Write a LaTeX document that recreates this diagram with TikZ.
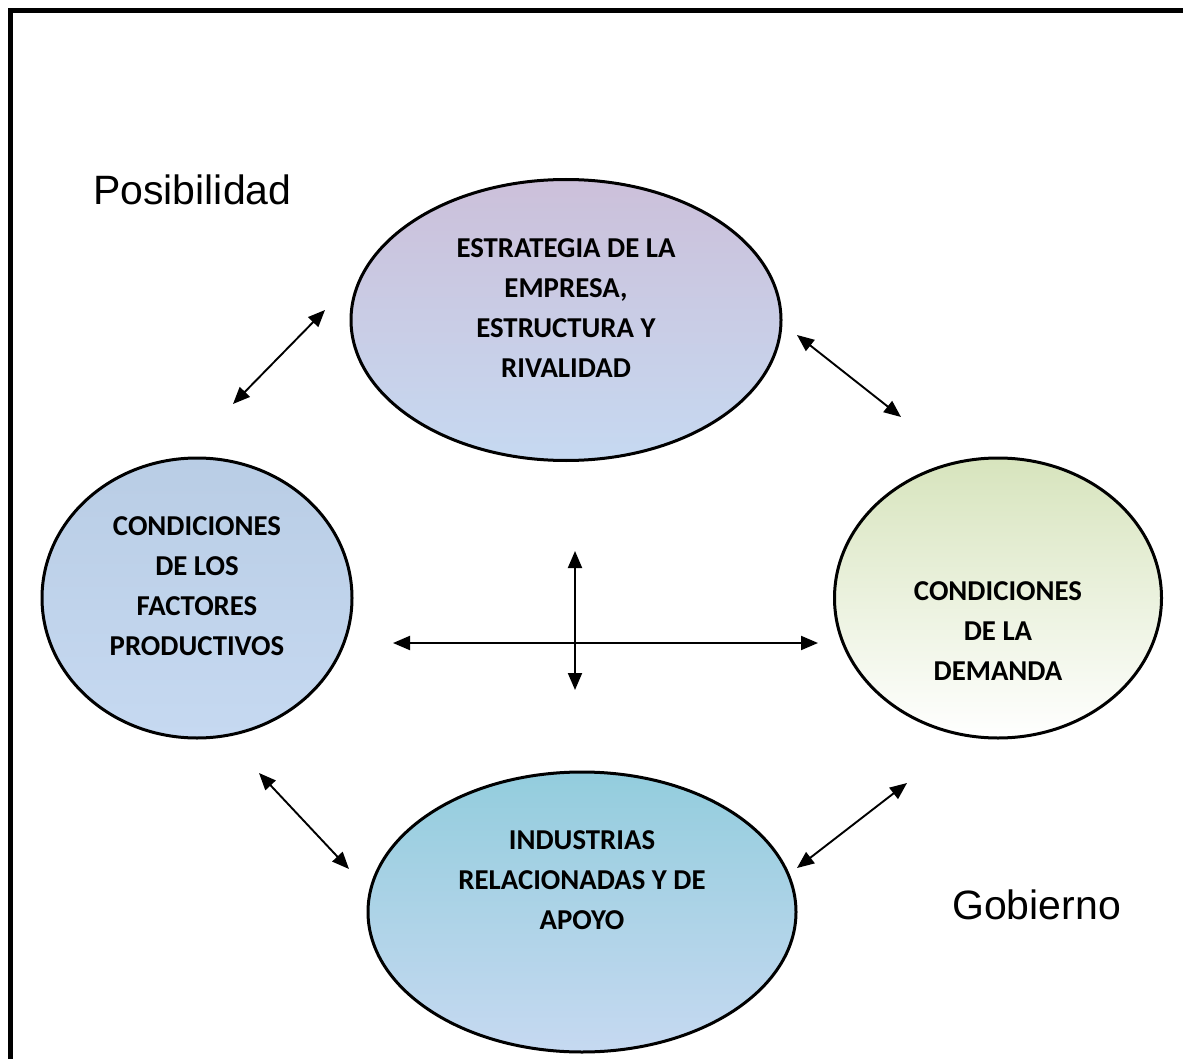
\documentclass[tikz,border=0pt]{standalone}
\usepackage{fontspec}
\setmainfont{Carlito}
\newfontfamily\arialfont{Liberation Sans}
\usetikzlibrary{arrows.meta,shapes.geometric}
\definecolor{purtop}{HTML}{CCC0DA}
\definecolor{bluebot}{HTML}{C6D9F1}
\definecolor{bluetop}{HTML}{B9CDE5}
\definecolor{greentop}{HTML}{D7E4BD}
\definecolor{tealtop}{HTML}{93CDDD}
\tikzset{
  oval/.style={ellipse, draw=black, line width=3pt, inner sep=0pt},
  ovaltext/.style={align=center, font=\fontsize{28.8}{40}\selectfont\bfseries},
  sidelabel/.style={anchor=west, inner sep=0pt, font=\arialfont\fontsize{41}{48}\selectfont},
  biarrow/.style={line width=1.9pt, {Triangle[length=17pt,width=14pt]}-{Triangle[length=17pt,width=14pt]}}
}
\begin{document}
\begin{tikzpicture}[x=1pt,y=-1pt]
\useasboundingbox (0,0) rectangle (1183,1059);
\fill[white] (0,0) rectangle (1183,1059);
\begin{scope}
\clip (0,0) rectangle (1183,1059);
\draw[line width=4.5pt] (10.5,10.5) rectangle (1200,1080);
\end{scope}

\node[oval, minimum width=430pt, minimum height=281pt, top color=purtop, bottom color=bluebot] (top) at (566,320) {};
\node[oval, minimum width=310pt, minimum height=280pt, top color=bluetop, bottom color=bluebot] (left) at (197,598) {};
\node[oval, minimum width=327pt, minimum height=280pt, top color=greentop, bottom color=white] (right) at (998,598) {};
\node[oval, minimum width=428pt, minimum height=280pt, top color=tealtop, bottom color=bluebot] (bottom) at (582,912) {};

\node[ovaltext] (toptext) at (566,308) {ESTRATEGIA DE LA\\EMPRESA,\\ESTRUCTURA Y\\RIVALIDAD};
\node[ovaltext] (lefttext) at (197,586) {CONDICIONES\\DE LOS\\FACTORES\\PRODUCTIVOS};
\node[ovaltext] (righttext) at (998,631) {CONDICIONES\\DE LA\\DEMANDA};
\node[ovaltext] (bottomtext) at (582,880) {INDUSTRIAS\\RELACIONADAS Y DE\\APOYO};

\node[sidelabel] (pos) at (93,190) {Posibilidad};
\node[sidelabel] (gob) at (952,905) {Gobierno};

\coordinate (a1) at (233,404); \coordinate (a2) at (325,310);
\coordinate (b1) at (797,335); \coordinate (b2) at (901,417);
\coordinate (c1) at (259,773); \coordinate (c2) at (349,869);
\coordinate (d1) at (797,868); \coordinate (d2) at (907,783);
\coordinate (h1) at (393,643); \coordinate (h2) at (818,643);
\coordinate (v1) at (575,551); \coordinate (v2) at (575,690);

\draw[biarrow] (a1) -- (a2);
\draw[biarrow] (b1) -- (b2);
\draw[biarrow] (c1) -- (c2);
\draw[biarrow] (d1) -- (d2);
\draw[biarrow] (h1) -- (h2);
\draw[biarrow] (v1) -- (v2);
\end{tikzpicture}
\end{document}
